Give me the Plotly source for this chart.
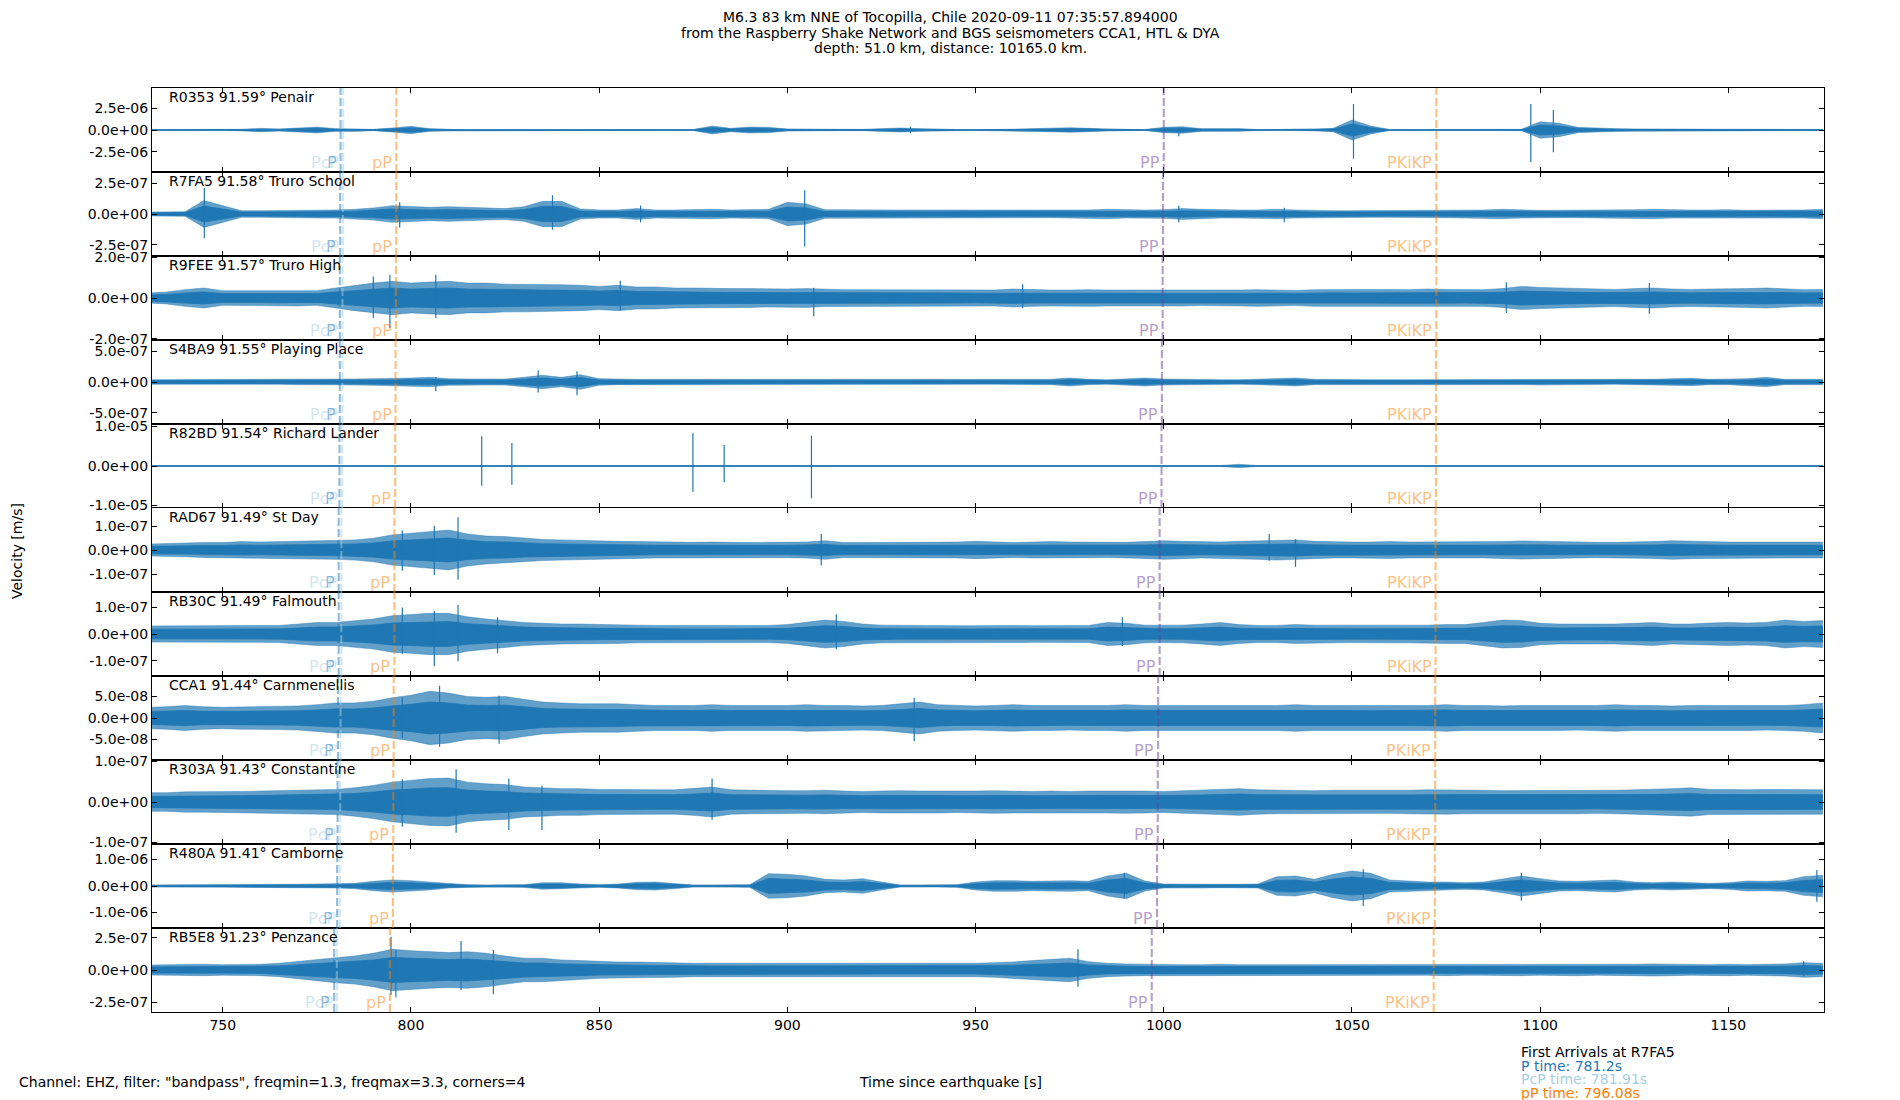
import plotly.graph_objects as go
from plotly.subplots import make_subplots

# ----------------------------------------------------------------------------------------------
# data (envelopes in nm/s, on a 5 s grid from 730 s to 1175 s)

t_grid = list(range(730, 1180, 5))

stations = ["R0353", "R7FA5", "R9FEE", "S4BA9", "R82BD", "RAD67",
			"RB30C", "CCA1", "R303A", "R480A", "RB5E8"]
distances = [91.59, 91.58, 91.57, 91.55, 91.54, 91.49, 91.49, 91.44, 91.43, 91.41, 91.23]
places = ["Penair", "Truro School", "Truro High", "Playing Place", "Richard Lander", "St Day",
		  "Falmouth", "Carnmenellis", "Constantine", "Camborne", "Penzance"]

R0353_env = [60, 60, 60, 60, 60, 75, 190, 115, 230, 345,
			 155, 155, 75, 230, 425, 155, 60, 60, 60, 60,
			 60, 60, 60, 60, 60, 60, 60, 60, 60, 60,
			 460, 190, 345, 310, 115, 75, 115, 75, 75, 115,
			 230, 155, 75, 60, 60, 60, 60, 155, 190, 270,
			 190, 75, 60, 60, 310, 385, 155, 190, 155, 60,
			 60, 60, 75, 190, 1150, 460, 60, 60, 60, 60,
			 60, 60, 60, 75, 960, 770, 310, 190, 155, 115,
			 115, 60, 115, 60, 60, 60, 60, 60, 60, 60]
R7FA5_env = [16, 16, 19, 109, 68, 27, 27, 27, 30, 33,
			 33, 38, 49, 68, 60, 54, 60, 54, 49, 44,
			 60, 103, 103, 41, 33, 33, 44, 33, 33, 35,
			 38, 33, 35, 38, 95, 82, 35, 33, 33, 30,
			 33, 33, 30, 33, 33, 33, 30, 30, 30, 33,
			 33, 38, 33, 33, 35, 44, 38, 33, 33, 33,
			 38, 33, 27, 27, 27, 27, 27, 27, 27, 30,
			 33, 33, 38, 33, 30, 30, 30, 30, 33, 35,
			 38, 33, 33, 33, 35, 30, 30, 33, 33, 38]
R9FEE_env = [24, 29, 41, 49, 36, 36, 36, 39, 39, 36,
			 49, 62, 73, 82, 73, 78, 82, 73, 73, 68,
			 68, 65, 65, 62, 57, 62, 54, 54, 49, 49,
			 46, 46, 46, 44, 44, 46, 42, 41, 41, 41,
			 42, 41, 41, 41, 39, 39, 44, 41, 39, 39,
			 41, 39, 39, 37, 39, 39, 37, 37, 39, 41,
			 39, 37, 41, 42, 41, 41, 42, 41, 44, 42,
			 41, 41, 46, 57, 52, 49, 46, 44, 42, 46,
			 49, 44, 42, 44, 44, 46, 49, 44, 41, 42]
S4BA9_env = [38, 38, 38, 38, 38, 38, 38, 38, 43, 43,
			 43, 49, 54, 54, 65, 76, 54, 49, 49, 49,
			 76, 108, 76, 119, 54, 43, 43, 43, 43, 38,
			 38, 43, 38, 38, 38, 38, 38, 38, 38, 38,
			 43, 38, 43, 38, 38, 38, 38, 38, 43, 65,
			 43, 38, 49, 65, 49, 43, 38, 38, 38, 43,
			 49, 65, 43, 38, 38, 38, 38, 38, 38, 38,
			 38, 43, 43, 43, 49, 49, 43, 43, 38, 43,
			 43, 54, 59, 43, 43, 54, 76, 43, 43, 43]
R82BD_env = [120, 120, 120, 120, 120, 120, 120, 120, 120, 120,
			 120, 120, 120, 120, 120, 120, 120, 120, 250, 250,
			 120, 120, 120, 120, 120, 120, 120, 120, 120, 300,
			 200, 300, 120, 120, 120, 300, 120, 120, 120, 120,
			 120, 120, 120, 120, 120, 120, 120, 120, 120, 120,
			 120, 120, 120, 120, 120, 120, 120, 120, 420, 120,
			 120, 120, 120, 120, 120, 120, 120, 120, 120, 120,
			 120, 250, 120, 120, 120, 120, 120, 120, 120, 120,
			 120, 120, 120, 120, 120, 120, 120, 120, 120, 120]
RAD67_env = [25, 28, 28, 31, 31, 35, 33, 35, 35, 38,
			 39, 42, 49, 63, 70, 76, 83, 67, 58, 56,
			 49, 44, 42, 39, 38, 36, 35, 33, 32, 32,
			 33, 31, 31, 32, 32, 33, 39, 31, 31, 31,
			 31, 32, 33, 33, 36, 33, 31, 33, 35, 33,
			 32, 31, 32, 35, 39, 36, 33, 33, 36, 39,
			 42, 42, 36, 33, 33, 33, 35, 33, 33, 32,
			 33, 33, 35, 38, 36, 33, 33, 32, 32, 33,
			 35, 39, 36, 35, 33, 33, 32, 33, 33, 33]
RB30C_env = [30, 30, 30, 32, 32, 31, 31, 32, 37, 43,
			 43, 50, 56, 68, 72, 77, 77, 64, 56, 50,
			 43, 40, 37, 37, 35, 35, 33, 32, 32, 31,
			 31, 31, 32, 32, 35, 43, 52, 47, 37, 33,
			 32, 32, 32, 31, 31, 32, 32, 31, 31, 31,
			 32, 43, 40, 33, 32, 33, 37, 43, 35, 32,
			 32, 35, 33, 33, 32, 32, 33, 33, 33, 35,
			 35, 43, 52, 50, 40, 37, 37, 37, 37, 40,
			 43, 37, 37, 41, 43, 41, 43, 52, 47, 50]
CCA1_env = [25, 26, 29, 26, 25, 26, 27, 27, 28, 31,
			35, 35, 39, 47, 53, 62, 58, 50, 48, 50,
			43, 37, 35, 33, 33, 33, 31, 29, 29, 29,
			31, 29, 29, 29, 29, 31, 29, 29, 28, 29,
			33, 37, 31, 29, 28, 29, 31, 29, 29, 28,
			29, 29, 31, 29, 29, 29, 29, 29, 29, 29,
			29, 31, 29, 29, 29, 28, 29, 29, 29, 31,
			29, 29, 28, 29, 29, 29, 28, 29, 31, 29,
			29, 28, 29, 29, 29, 29, 28, 29, 31, 35]
R303A_env = [23, 23, 25, 25, 25, 26, 27, 28, 29, 30,
			 31, 35, 41, 49, 53, 58, 59, 49, 45, 43,
			 37, 35, 33, 33, 31, 31, 30, 30, 30, 33,
			 37, 30, 29, 29, 28, 28, 29, 27, 26, 27,
			 28, 27, 27, 26, 27, 28, 27, 26, 27, 26,
			 27, 27, 28, 27, 26, 28, 29, 31, 33, 30,
			 29, 28, 28, 29, 29, 28, 28, 29, 30, 30,
			 29, 29, 28, 28, 29, 29, 29, 28, 29, 30,
			 31, 33, 35, 31, 31, 30, 31, 31, 30, 30]
R480A_env = [38, 38, 38, 50, 38, 50, 50, 63, 63, 76,
			 76, 100, 176, 227, 202, 151, 76, 50, 38, 38,
			 50, 126, 126, 76, 50, 76, 139, 151, 100, 38,
			 38, 38, 50, 466, 441, 378, 252, 227, 277, 151,
			 38, 38, 38, 50, 151, 202, 202, 176, 189, 202,
			 176, 378, 479, 189, 76, 63, 76, 63, 63, 76,
			 353, 378, 252, 441, 567, 479, 227, 176, 151, 151,
			 126, 151, 252, 378, 277, 189, 176, 189, 227, 151,
			 126, 151, 126, 100, 126, 189, 176, 202, 353, 403]
RB5E8_env = [39, 41, 44, 44, 41, 41, 44, 52, 67, 83,
			 98, 109, 130, 161, 150, 142, 135, 142, 130, 109,
			 91, 91, 78, 73, 65, 62, 62, 57, 57, 52,
			 52, 52, 52, 52, 49, 52, 49, 52, 52, 52,
			 52, 52, 49, 52, 52, 57, 62, 73, 83, 91,
			 65, 52, 47, 44, 44, 41, 41, 44, 41, 41,
			 44, 41, 41, 44, 44, 41, 41, 41, 41, 44,
			 41, 41, 41, 44, 41, 41, 44, 41, 41, 44,
			 47, 44, 41, 41, 44, 41, 44, 47, 57, 52]

# single large swings (time s, up nm/s, down nm/s)
R0353_spk_t = [932.7, 1004.0, 1050.4, 1097.5, 1103.5]
R0353_spk_up = [385, 310, 3000, 3000, 2310]
R0353_spk_dn = [385, 730, 3310, 3700, 2580]
R7FA5_spk_t = [745.1, 797.0, 837.6, 861.0, 904.6, 1004.0, 1032.0]
R7FA5_spk_up = [212, 95, 152, 68, 193, 68, 50]
R7FA5_spk_dn = [196, 109, 128, 68, 264, 68, 68]
R9FEE_spk_t = [790.0, 794.4, 806.6, 855.6, 907.0, 962.5, 1091.0, 1129.0]
R9FEE_spk_up = [106, 114, 114, 85, 50, 68, 77, 73]
R9FEE_spk_dn = [98, 147, 98, 60, 90, 50, 73, 77]
S4BA9_spk_t = [806.6, 833.8, 844.1]
S4BA9_spk_up = [80, 190, 175]
S4BA9_spk_dn = [150, 170, 215]
R82BD_spk_t = [818.8, 826.8, 874.9, 883.2, 906.4]
R82BD_spk_up = [7510, 5820, 8270, 5320, 7680]
R82BD_spk_dn = [4980, 4730, 6500, 4140, 8190]
RAD67_spk_t = [797.7, 806.2, 812.5, 909.0, 1028.0, 1035.0]
RAD67_spk_up = [81, 101, 136, 67, 67, 45]
RAD67_spk_dn = [86, 104, 124, 65, 45, 70]
RB30C_spk_t = [797.7, 806.2, 812.5, 823.0, 913.0, 989.0]
RB30C_spk_up = [99, 87, 108, 62, 74, 62]
RB30C_spk_dn = [74, 120, 102, 72, 57, 45]
CCA1_spk_t = [797.7, 807.6, 823.4, 933.7]
CCA1_spk_up = [48, 75, 52, 47]
CCA1_spk_dn = [47, 67, 60, 54]
R303A_spk_t = [797.7, 812.0, 826.0, 834.8, 880.0]
R303A_spk_up = [56, 81, 58, 40, 58]
R303A_spk_dn = [61, 76, 69, 69, 44]
R480A_spk_t = [989.5, 1053.0, 1095.0, 1173.5]
R480A_spk_up = [504, 630, 504, 605]
R480A_spk_dn = [466, 756, 554, 592]
RB5E8_spk_t = [794.7, 796.0, 813.3, 821.9, 977.2, 1170.0]
RB5E8_spk_up = [259, 155, 225, 155, 161, 67]
RB5E8_spk_dn = [194, 212, 155, 189, 130, 50]

# y tick step and half range of each panel (m/s)
tick_step = [2.5e-6, 2.5e-7, 2.0e-7, 5.0e-7, 1.0e-5, 1.0e-7, 1.0e-7, 5.0e-8, 1.0e-7, 1.0e-6, 2.5e-7]
half_range = [4.85e-6, 3.42e-7, 2.06e-7, 6.81e-7, 1.063e-5, 1.75e-7, 1.565e-7, 9.77e-8, 1.037e-7, 1.585e-6, 3.26e-7]

# theoretical arrivals (s) per station
P_time = [781.3, 781.2, 781.1, 781.1, 781.0, 780.8, 780.8, 780.6, 780.5, 780.4, 779.6]
PcP_time = [782.0, 781.91, 781.8, 781.8, 781.7, 781.5, 781.5, 781.3, 781.2, 781.1, 780.3]
pP_time = [796.1, 796.08, 796.0, 795.9, 795.8, 795.6, 795.6, 795.4, 795.3, 795.2, 794.4]
PP_time = [1000.0, 999.8, 999.7, 999.5, 999.4, 998.9, 998.9, 998.5, 998.4, 998.2, 996.8]
PKiKP_time = [1072.4, 1072.4, 1072.4, 1072.3, 1072.3, 1072.2, 1072.2, 1072.1, 1072.1, 1072.0, 1071.7]

envs = [R0353_env, R7FA5_env, R9FEE_env, S4BA9_env, R82BD_env, RAD67_env,
		RB30C_env, CCA1_env, R303A_env, R480A_env, RB5E8_env]
spikes = [
	(R0353_spk_t, R0353_spk_up, R0353_spk_dn),
	(R7FA5_spk_t, R7FA5_spk_up, R7FA5_spk_dn),
	(R9FEE_spk_t, R9FEE_spk_up, R9FEE_spk_dn),
	(S4BA9_spk_t, S4BA9_spk_up, S4BA9_spk_dn),
	(R82BD_spk_t, R82BD_spk_up, R82BD_spk_dn),
	(RAD67_spk_t, RAD67_spk_up, RAD67_spk_dn),
	(RB30C_spk_t, RB30C_spk_up, RB30C_spk_dn),
	(CCA1_spk_t, CCA1_spk_up, CCA1_spk_dn),
	(R303A_spk_t, R303A_spk_up, R303A_spk_dn),
	(R480A_spk_t, R480A_spk_up, R480A_spk_dn),
	(RB5E8_spk_t, RB5E8_spk_up, RB5E8_spk_dn),
]

# ----------------------------------------------------------------------------------------------
# styles

FONT = "DejaVu Sans"
WAVE = "#1f77b4"
WAVE_FRINGE = "rgba(31,119,180,0.7)"
CORE = 0.6   # share of the envelope drawn as the dense, solid core of the trace

phase_styles = [
	# (name, times, colour)
	("P", P_time, "rgba(31,120,180,0.5)"),
	("PcP", PcP_time, "rgba(166,206,227,0.5)"),
	("pP", pP_time, "rgba(255,127,0,0.5)"),
	("PP", PP_time, "rgba(106,61,154,0.5)"),
	("PKiKP", PKiKP_time, "rgba(255,127,0,0.5)"),
]
# PcP label goes under the P label
label_order = ["PcP", "P", "pP", "PP", "PKiKP"]

W, H = 1900, 1100
ML, MR, MT, MB = 152, 76, 88, 88
PW, PH = W - ML - MR, H - MT - MB


def px_to_paper(px, py):
	return (px - ML) / PW, 1 - (py - MT) / PH


def band(env, scale=1.0):
	y = [v * 1e-9 * scale for v in env]
	return t_grid + t_grid[::-1], y + [-v for v in y[::-1]]


fig = make_subplots(rows=11, cols=1, shared_xaxes=True, vertical_spacing=0)

for i, code in enumerate(stations):
	row = i + 1

	# outer fringe of the waveform
	bx, by = band(envs[i])
	fig.add_trace(
		go.Scatter(
			x=bx, y=by, mode="lines", fill="toself",
			fillcolor=WAVE_FRINGE, line=dict(color=WAVE_FRINGE, width=0.6),
			hoverinfo="skip", showlegend=False,
		),
		row=row, col=1,
	)
	# dense core of the waveform
	bx, by = band(envs[i], CORE)
	fig.add_trace(
		go.Scatter(
			x=bx, y=by, mode="lines", fill="toself",
			fillcolor=WAVE, line=dict(color=WAVE, width=0.8),
			hoverinfo="skip", showlegend=False,
		),
		row=row, col=1,
	)

	# the big single swings
	st, su, sd = spikes[i]
	xs, ys = [], []
	for t, u, d in zip(st, su, sd):
		xs += [t, t, None]
		ys += [u * 1e-9, -d * 1e-9, None]
	fig.add_trace(
		go.Scatter(
			x=xs, y=ys, mode="lines",
			line=dict(color=WAVE, width=1.2),
			hoverinfo="skip", showlegend=False,
		),
		row=row, col=1,
	)

	# phase lines
	for name, times, col in phase_styles:
		fig.add_shape(
			type="line", x0=times[i], x1=times[i], y0=0, y1=1,
			xref="x", yref="y domain",
			line=dict(color=col, width=2.1, dash="8px,3px"),
			layer="above",
			row=row, col=1,
		)

	# phase labels
	style_map = {s[0]: s for s in phase_styles}
	for name in label_order:
		_, times, col = style_map[name]
		fig.add_annotation(
			x=times[i], y=0, xref="x", yref="y domain",
			text=name, showarrow=False,
			xanchor="right", yanchor="bottom",
			xshift=-2, yshift=-2,
			font=dict(family=FONT, size=16, color=col),
			row=row, col=1,
		)

	# station label
	fig.add_annotation(
		x=0.009, y=1, xref="x domain", yref="y domain",
		text=f"{code} {distances[i]:.2f}° {places[i]}",
		showarrow=False, xanchor="left", yanchor="top", yshift=1,
		font=dict(family=FONT, size=14, color="black"),
		row=row, col=1,
	)

	step = tick_step[i]
	fig.update_yaxes(
		range=[-half_range[i], half_range[i]],
		tickvals=[step, 0, -step],
		ticktext=[f"{step:.1e}", f"{0:.1e}", f"{-step:.1e}"],
		row=row, col=1,
	)

fig.update_xaxes(
	range=[731.2, 1175.4],
	tickvals=[750, 800, 850, 900, 950, 1000, 1050, 1100, 1150],
	ticks="inside", ticklen=5, tickwidth=1, tickcolor="black",
	mirror="allticks", showline=True, linecolor="black", linewidth=1.1,
	showgrid=False, zeroline=False,
	tickfont=dict(family=FONT, size=14, color="black"),
)
fig.update_yaxes(
	ticks="inside", ticklen=5, tickwidth=1, tickcolor="black",
	mirror="allticks", showline=True, linecolor="black", linewidth=1.1,
	showgrid=False, zeroline=False,
	tickfont=dict(family=FONT, size=14, color="black"),
)

# ----------------------------------------------------------------------------------------------
# figure texts

title_lines = [
	"M6.3 83 km NNE of Tocopilla, Chile 2020-09-11 07:35:57.894000",
	"from the Raspberry Shake Network and BGS seismometers CCA1, HTL & DYA",
	"depth: 51.0 km, distance: 10165.0 km.",
]
for k, line in enumerate(title_lines):
	x, y = px_to_paper(950, 17 + 15.7 * k)
	fig.add_annotation(x=x, y=y, xref="paper", yref="paper", text=line, showarrow=False,
					   xanchor="center", yanchor="middle",
					   font=dict(family=FONT, size=14, color="black"))

x, y = px_to_paper(17, 551)
fig.add_annotation(x=x, y=y, xref="paper", yref="paper", text="Velocity [m/s]", showarrow=False,
				   textangle=-90, xanchor="center", yanchor="middle",
				   font=dict(family=FONT, size=14, color="black"))

x, y = px_to_paper(17, 1082)
fig.add_annotation(x=x, y=y, xref="paper", yref="paper",
				   text='Channel: EHZ, filter: "bandpass", freqmin=1.3, freqmax=3.3, corners=4',
				   showarrow=False, xanchor="left", yanchor="middle",
				   font=dict(family=FONT, size=14, color="black"))

x, y = px_to_paper(950, 1082)
fig.add_annotation(x=x, y=y, xref="paper", yref="paper", text="Time since earthquake [s]",
				   showarrow=False, xanchor="center", yanchor="middle",
				   font=dict(family=FONT, size=14, color="black"))

arrival_lines = [
	("First Arrivals at R7FA5", "black"),
	(f"P time: {P_time[1]}s", "#1f78b4"),
	(f"PcP time: {PcP_time[1]}s", "#a6cee3"),
	(f"pP time: {pP_time[1]}s", "#ff7f00"),
]
for k, (line, col) in enumerate(arrival_lines):
	x, y = px_to_paper(1519, 1052 + 13.7 * k)
	fig.add_annotation(x=x, y=y, xref="paper", yref="paper", text=line, showarrow=False,
					   xanchor="left", yanchor="middle",
					   font=dict(family=FONT, size=14, color=col))

fig.update_layout(
	width=W, height=H,
	margin=dict(l=ML, r=MR, t=MT, b=MB),
	plot_bgcolor="white", paper_bgcolor="white",
	showlegend=False,
	font=dict(family=FONT, size=14, color="black"),
)

# the page's default body margin would push the figure 8 px down and right
fig.write_html(
	"out.html",
	config={"displayModeBar": False},
	post_script="document.body.style.margin = '0px';",
)
